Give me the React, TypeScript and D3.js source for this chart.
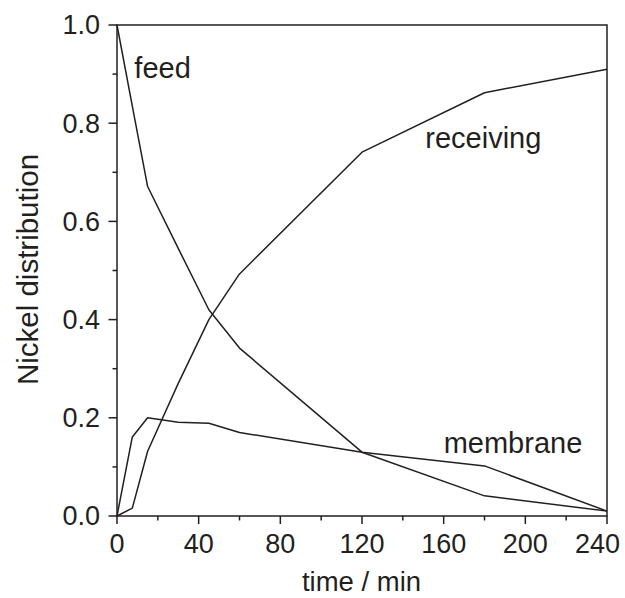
import React, { useEffect, useRef } from 'react'
import * as d3 from 'd3'

// time points (min)
const times = [0, 7.5, 15, 30, 45, 60, 120, 180, 240]
// nickel fraction in each phase
const feed = [1.0, 0.835, 0.671, 0.545, 0.42, 0.342, 0.13, 0.041, 0.01]
const receiving = [0, 0.016, 0.132, 0.27, 0.4, 0.493, 0.741, 0.862, 0.91]
const membrane = [0, 0.161, 0.2, 0.191, 0.189, 0.17, 0.13, 0.102, 0.01]

const xTicks = [0, 40, 80, 120, 160, 200, 240]
const xMinor = [20, 60, 100, 140, 180, 220]
const yTicks = [0, 0.2, 0.4, 0.6, 0.8, 1.0]
const yMinor = [0.1, 0.3, 0.5, 0.7, 0.9]

const seriesLabels = [
  { name: 'feed', t: 8.5, v: 0.893 },
  { name: 'receiving', t: 151, v: 0.749 },
  { name: 'membrane', t: 160, v: 0.128 }
]

const margin = { top: 25, right: 18, bottom: 82, left: 117 }
const W = 625
const H = 598
const ink = '#231f20'
const font = '"Liberation Sans", Arial, Helvetica, sans-serif'

const App = () => {
  const ref = useRef<SVGSVGElement>(null)

  useEffect(() => {
    const width = W - margin.left - margin.right
    const height = H - margin.top - margin.bottom

    const root = d3.select(ref.current)
    root.selectAll('*').remove()

    const svg = root
      .append('g')
      .attr('transform', 'translate(' + margin.left + ',' + margin.top + ')')

    const x = d3.scaleLinear().domain([0, 240]).range([0, width])
    const y = d3.scaleLinear().domain([0, 1]).range([height, 0])

    // frame
    svg
      .append('rect')
      .attr('width', width)
      .attr('height', height)
      .attr('fill', 'none')
      .attr('stroke', ink)
      .attr('stroke-width', 1.5)

    // -------------------------------------------------
    // axes
    // -------------------------------------------------
    const xAxis = svg.append('g').attr('transform', 'translate(0,' + height + ')')
    xAxis
      .selectAll('line.major')
      .data(xTicks)
      .enter()
      .append('line')
      .attr('x1', d => x(d))
      .attr('x2', d => x(d))
      .attr('y1', 0)
      .attr('y2', 8)
      .attr('stroke', ink)
      .attr('stroke-width', 1.5)
    xAxis
      .selectAll('line.minor')
      .data(xMinor)
      .enter()
      .append('line')
      .attr('x1', d => x(d))
      .attr('x2', d => x(d))
      .attr('y1', 0)
      .attr('y2', 4.5)
      .attr('stroke', ink)
      .attr('stroke-width', 1.5)
    xAxis
      .selectAll('text')
      .data(xTicks)
      .enter()
      .append('text')
      // last label is pulled in so it stays inside the page
      .attr('x', d => (d === 240 ? x(d) + 13 : x(d)))
      .attr('y', 37)
      .attr('text-anchor', d => (d === 240 ? 'end' : 'middle'))
      .style('font-family', font)
      .style('font-size', '27px')
      .attr('fill', ink)
      .text(d => d)

    const yAxis = svg.append('g')
    yAxis
      .selectAll('line.major')
      .data(yTicks)
      .enter()
      .append('line')
      .attr('x1', -8.5)
      .attr('x2', 0)
      .attr('y1', d => y(d))
      .attr('y2', d => y(d))
      .attr('stroke', ink)
      .attr('stroke-width', 1.5)
    yAxis
      .selectAll('line.minor')
      .data(yMinor)
      .enter()
      .append('line')
      .attr('x1', -4.5)
      .attr('x2', 0)
      .attr('y1', d => y(d))
      .attr('y2', d => y(d))
      .attr('stroke', ink)
      .attr('stroke-width', 1.5)
    yAxis
      .selectAll('text')
      .data(yTicks)
      .enter()
      .append('text')
      .attr('x', -17)
      .attr('y', d => y(d))
      .attr('dy', '0.35em')
      .attr('text-anchor', 'end')
      .style('font-family', font)
      .style('font-size', '27px')
      .attr('fill', ink)
      .text(d => d3.format('.1f')(d))

    svg
      .append('text')
      .attr('x', width / 2 - 0.5)
      .attr('y', height + 75)
      .attr('text-anchor', 'middle')
      .style('font-family', font)
      .style('font-size', '27.5px')
      .attr('fill', ink)
      .text('time / min')

    svg
      .append('text')
      .attr('transform', 'translate(' + (-79) + ',' + (height / 2 - 1) + ') rotate(-90)')
      .attr('text-anchor', 'middle')
      .style('font-family', font)
      .style('font-size', '29.5px')
      .attr('fill', ink)
      .text('Nickel distribution')

    // -------------------------------------------------
    // curves
    // -------------------------------------------------
    const line = d3
      .line<number>()
      .x((d, i) => x(times[i]))
      .y(d => y(d))

    svg
      .selectAll('path.series')
      .data([feed, receiving, membrane])
      .enter()
      .append('path')
      .attr('d', d => line(d))
      .attr('fill', 'none')
      .attr('stroke', ink)
      .attr('stroke-width', 1.5)
      .attr('stroke-linejoin', 'round')

    svg
      .selectAll('text.label')
      .data(seriesLabels)
      .enter()
      .append('text')
      .attr('x', d => x(d.t))
      .attr('y', d => y(d.v))
      .style('font-family', font)
      .style('font-size', '29px')
      .attr('fill', ink)
      .text(d => d.name)
  }, [])

  return (
    <svg
      ref={ref}
      width={W}
      height={H}
      style={{ position: 'absolute', left: 0, top: 0, background: '#fff' }}
    />
  )
}

export default App
